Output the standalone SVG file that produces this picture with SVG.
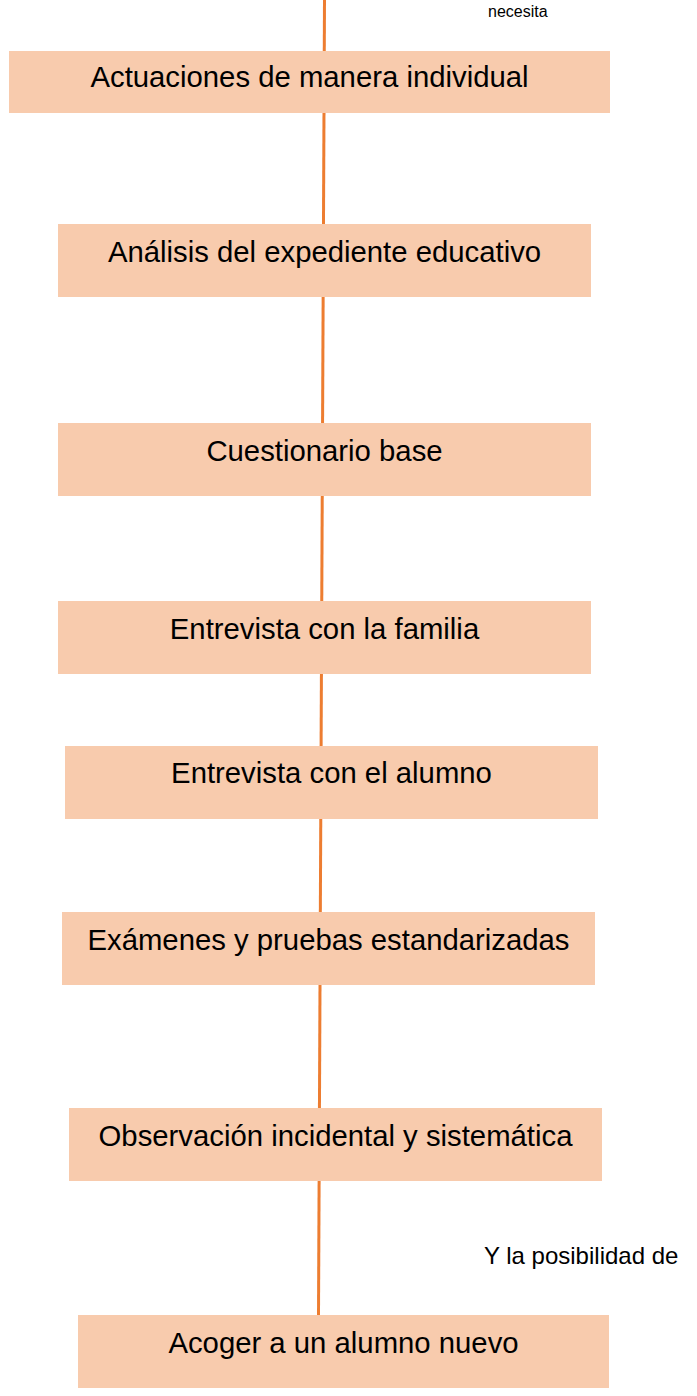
<svg xmlns="http://www.w3.org/2000/svg" width="697" height="1396" viewBox="0 0 697 1396">
<style>
.box{fill:#F8CBAD;}
.lbl{font-family:"Liberation Sans",Arial,sans-serif;font-size:29.3px;fill:#000;text-anchor:middle;}
.note{font-family:"Liberation Sans",Arial,sans-serif;fill:#000;}
.conn{stroke:#ED7D31;stroke-width:3;fill:none;}
</style>
<rect width="697" height="1396" fill="#fff"/>
<g id="connectors">
<line class="conn" x1="324.5" y1="0" x2="318.5" y2="1315"/>
</g>
<g id="n1"><rect class="box" x="9" y="51" width="601" height="62"/><text class="lbl" x="309.5" y="87">Actuaciones de manera individual</text></g>
<g id="n2"><rect class="box" x="58" y="224" width="533" height="73"/><text class="lbl" x="324.5" y="262">Análisis del expediente educativo</text></g>
<g id="n3"><rect class="box" x="58" y="423" width="533" height="73"/><text class="lbl" x="324.5" y="461">Cuestionario base</text></g>
<g id="n4"><rect class="box" x="58" y="601" width="533" height="73"/><text class="lbl" x="324.5" y="639">Entrevista con la familia</text></g>
<g id="n5"><rect class="box" x="65" y="746" width="533" height="73"/><text class="lbl" x="331.5" y="783">Entrevista con el alumno</text></g>
<g id="n6"><rect class="box" x="62" y="912" width="533" height="73"/><text class="lbl" x="328.5" y="950">Exámenes y pruebas estandarizadas</text></g>
<g id="n7"><rect class="box" x="69" y="1108" width="533" height="73"/><text class="lbl" x="335.5" y="1146">Observación incidental y sistemática</text></g>
<g id="n8"><rect class="box" x="78" y="1315" width="531" height="73"/><text class="lbl" x="343.5" y="1353">Acoger a un alumno nuevo</text></g>
<g id="notes">
<text class="note" x="488" y="17" font-size="16">necesita</text>
<text class="note" x="484" y="1264" font-size="24">Y la posibilidad de</text>
</g>
</svg>
